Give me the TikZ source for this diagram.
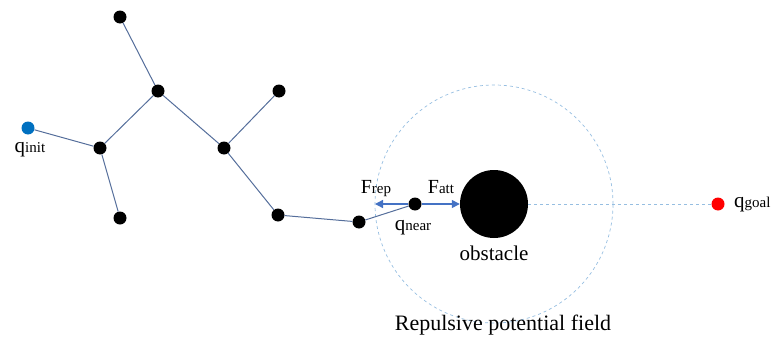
\documentclass[tikz,border=0pt]{standalone}
\usepackage{fontspec}
\setmainfont{Liberation Serif}
\usetikzlibrary{arrows.meta}
\definecolor{edgec}{RGB}{85,110,155}
\definecolor{arrc}{RGB}{68,114,196}
\definecolor{fieldc}{RGB}{150,190,225}
\definecolor{initc}{RGB}{0,112,192}
\tikzset{
  dot/.style={circle,fill=black,inner sep=0pt,minimum size=13pt},
  edge/.style={draw=edgec,line width=1pt},
  force/.style={draw=arrc,line width=1.4pt,-{Triangle[length=8pt,width=8pt]}},
  lab/.style={inner sep=0pt},
  big/.style={inner sep=0pt,font=\fontsize{21}{24}\selectfont},
  bigger/.style={inner sep=0pt,font=\fontsize{22}{25}\selectfont}
}
\newcommand{\qsub}[1]{{\fontsize{21}{24}\selectfont q}{\fontsize{15}{18}\selectfont #1}}
\newcommand{\Fsub}[1]{{\fontsize{20}{23}\selectfont F}{\fontsize{15}{18}\selectfont #1}}
\begin{document}
\begin{tikzpicture}[x=1pt,y=-1pt]
\useasboundingbox (0,0) rectangle (772,343);
% obstacle and field
\node (obs) at (494,204) [circle,fill=black,inner sep=0pt,minimum size=68pt] {};
\node (field) at (494,204) [circle,draw=fieldc,dashed,line width=0.7pt,inner sep=0pt,minimum size=238pt] {};
% tree nodes
\node[dot,fill=initc] (qi) at (28,128) {};
\node[dot] (a) at (100,148) {};
\node[dot] (b) at (120,218) {};
\node[dot] (c) at (158,91) {};
\node[dot] (d) at (120,17) {};
\node[dot] (e) at (224,148) {};
\node[dot] (f) at (279,91) {};
\node[dot] (g) at (278,215) {};
\node[dot] (h) at (359,222) {};
\node[dot] (qn) at (415,204) {};
\node[dot,fill=red] (qg) at (718,204) {};
% edges
\path[edge] (qi) -- (a) (a) -- (b) (a) -- (c) (c) -- (d) (c) -- (e) (e) -- (f) (e) -- (g) (g) -- (h) (h) -- (qn);
\draw[fieldc,dashed,line width=0.7pt] (obs.east) -- (qg.west);
% forces
\coordinate (repend) at (375,204);
\draw[force] (qn.west) -- (repend);
\draw[force] (qn.east) -- (obs.west);
% labels
\node[lab,anchor=base] (li) at (30,152) {\qsub{init}};
\node[lab,anchor=base] (ln) at (413,230) {\qsub{near}};
\node[lab,anchor=base west] (lg) at (734,207) {\qsub{goal}};
\node[lab,anchor=base] (lr) at (376,193) {\Fsub{rep}};
\node[lab,anchor=base] (la) at (441,193) {\Fsub{att}};
\node[big,anchor=base] (lo) at (494,260) {obstacle};
\node[bigger,anchor=base] (lf) at (503,330) {Repulsive potential field};
\end{tikzpicture}
\end{document}
